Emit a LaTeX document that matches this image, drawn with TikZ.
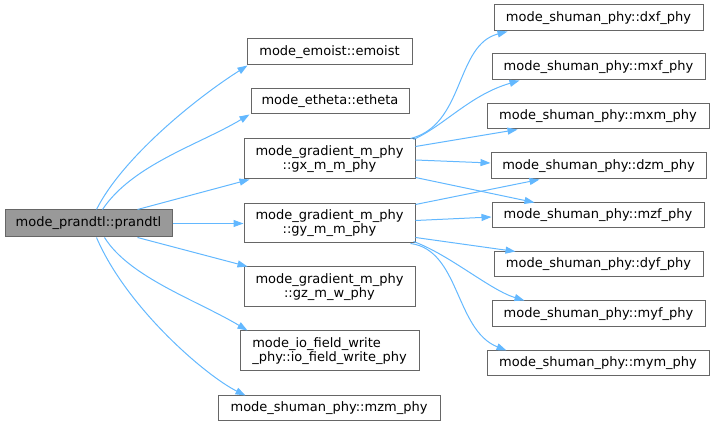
\documentclass[tikz,border=0pt]{standalone}
\usepackage{fontspec}
\setmainfont{DejaVu Sans}
\usetikzlibrary{arrows.meta, calc}
\definecolor{edgeblue}{HTML}{63B8FF}
\definecolor{boxline}{HTML}{666666}
\definecolor{boxgray}{HTML}{999999}

\begin{document}
\begin{tikzpicture}[x=1pt, y=-1pt,
  fn/.style={draw=boxline, line width=1pt, inner sep=0pt, align=center,
    font=\fontsize{13}{14}\selectfont},
  call/.style={draw=edgeblue, line width=1pt, -{Triangle[length=10pt, width=7pt]}}]
  \useasboundingbox (0,0) rectangle (715,427);

  % caller
  \node[fn, fill=boxgray, minimum width=167pt, minimum height=27pt] (pr) at (88.5,223.5) {mode\_prandtl::prandtl};

  % middle column
  \node[fn, minimum width=165pt, minimum height=26pt] (em) at (329.5,52) {mode\_emoist::emoist};
  \node[fn, minimum width=158pt, minimum height=25pt] (et) at (330,101.5) {mode\_etheta::etheta};
  \node[fn, minimum width=171pt, minimum height=40pt] (gx) at (329.5,159) {mode\_gradient\_m\_phy\\::gx\_m\_m\_phy};
  \node[fn, minimum width=171pt, minimum height=39pt] (gy) at (329.5,223.5) {mode\_gradient\_m\_phy\\::gy\_m\_m\_phy};
  \node[fn, minimum width=171pt, minimum height=40pt] (gz) at (329.5,287) {mode\_gradient\_m\_phy\\::gz\_m\_w\_phy};
  \node[fn, align=left, minimum width=179pt, minimum height=40pt] (io) at (329.5,351) {mode\_io\_field\_write\\\_phy::io\_field\_write\_phy};
  \node[fn, minimum width=222pt, minimum height=25pt] (mzm) at (329,408.5) {mode\_shuman\_phy::mzm\_phy};

  % right column
  \node[fn, minimum width=209pt, minimum height=26pt] (dxf) at (598.5,18) {mode\_shuman\_phy::dxf\_phy};
  \node[fn, minimum width=213pt, minimum height=26pt] (mxf) at (598.5,67) {mode\_shuman\_phy::mxf\_phy};
  \node[fn, minimum width=222pt, minimum height=25pt] (mxm) at (598,116.5) {mode\_shuman\_phy::mxm\_phy};
  \node[fn, minimum width=215pt, minimum height=26pt] (dzm) at (598.5,166) {mode\_shuman\_phy::dzm\_phy};
  \node[fn, minimum width=212pt, minimum height=25pt] (mzf) at (598,215.5) {mode\_shuman\_phy::mzf\_phy};
  \node[fn, minimum width=209pt, minimum height=25pt] (dyf) at (598.5,264.5) {mode\_shuman\_phy::dyf\_phy};
  \node[fn, minimum width=213pt, minimum height=26pt] (myf) at (598.5,314) {mode\_shuman\_phy::myf\_phy};
  \node[fn, minimum width=222pt, minimum height=25pt] (mym) at (598,363.5) {mode\_shuman\_phy::mym\_phy};

  % calls from prandtl
  \draw[call] ($(pr.north west)+(92,0)$) .. controls +(25,-50) and +(-55,35) .. ($(em.south west)+(1,0)$);
  \draw[call] ($(pr.north west)+(98,0)$) .. controls +(30,-45) and +(-50,30) .. ($(et.south west)+(-1,0)$);
  \draw[call] ($(pr.north west)+(133,0)$) -- ($(gx.south west)+(6,0)$);
  \draw[call] (pr.east) -- (gy.west);
  \draw[call] ($(pr.south west)+(133,0)$) -- ($(gz.north west)+(4,0)$);
  \draw[call] ($(pr.south west)+(100,0)$) .. controls +(25,40) and +(-50,-30) .. ($(io.north west)+(8,0)$);
  \draw[call] ($(pr.south west)+(92,0)$) .. controls +(30,70) and +(-40,-20) .. ($(mzm.north west)+(28,0)$);

  % calls from gx_m_m_phy
  \draw[call] ($(gx.north east)+(-5,0)$) .. controls (465,125) and (455,45) .. ($(dxf.south west)+(14,0)$);
  \draw[call] ($(gx.north east)+(-2,1)$) .. controls (445,125) and (470,95) .. ($(mxf.south west)+(28,0)$);
  \draw[call] ($(gx.north east)+(0,8)$) -- ($(mxm.south west)+(31,0)$);
  \draw[call] ($(gx.east)+(0,1)$) -- ($(dzm.west)+(0,-3)$);
  \draw[call] ($(gx.south east)+(0,-2)$) -- ($(mzf.north west)+(43,0)$);

  % calls from gy_m_m_phy
  \draw[call] ($(gy.north east)+(0,1)$) -- ($(dzm.south west)+(49,0)$);
  \draw[call] ($(gy.east)+(0,-3)$) -- ($(mzf.west)+(0,1.5)$);
  \draw[call] ($(gy.south east)+(0,-6)$) -- ($(dyf.north west)+(22,0)$);
  \draw[call] ($(gy.south east)+(-2,-2)$) .. controls (450,255) and (490,290) .. ($(myf.north west)+(33,0)$);
  \draw[call] ($(gy.south east)+(-5,0)$) .. controls (460,250) and (455,330) .. ($(mym.north west)+(20,0)$);
\end{tikzpicture}
\end{document}
